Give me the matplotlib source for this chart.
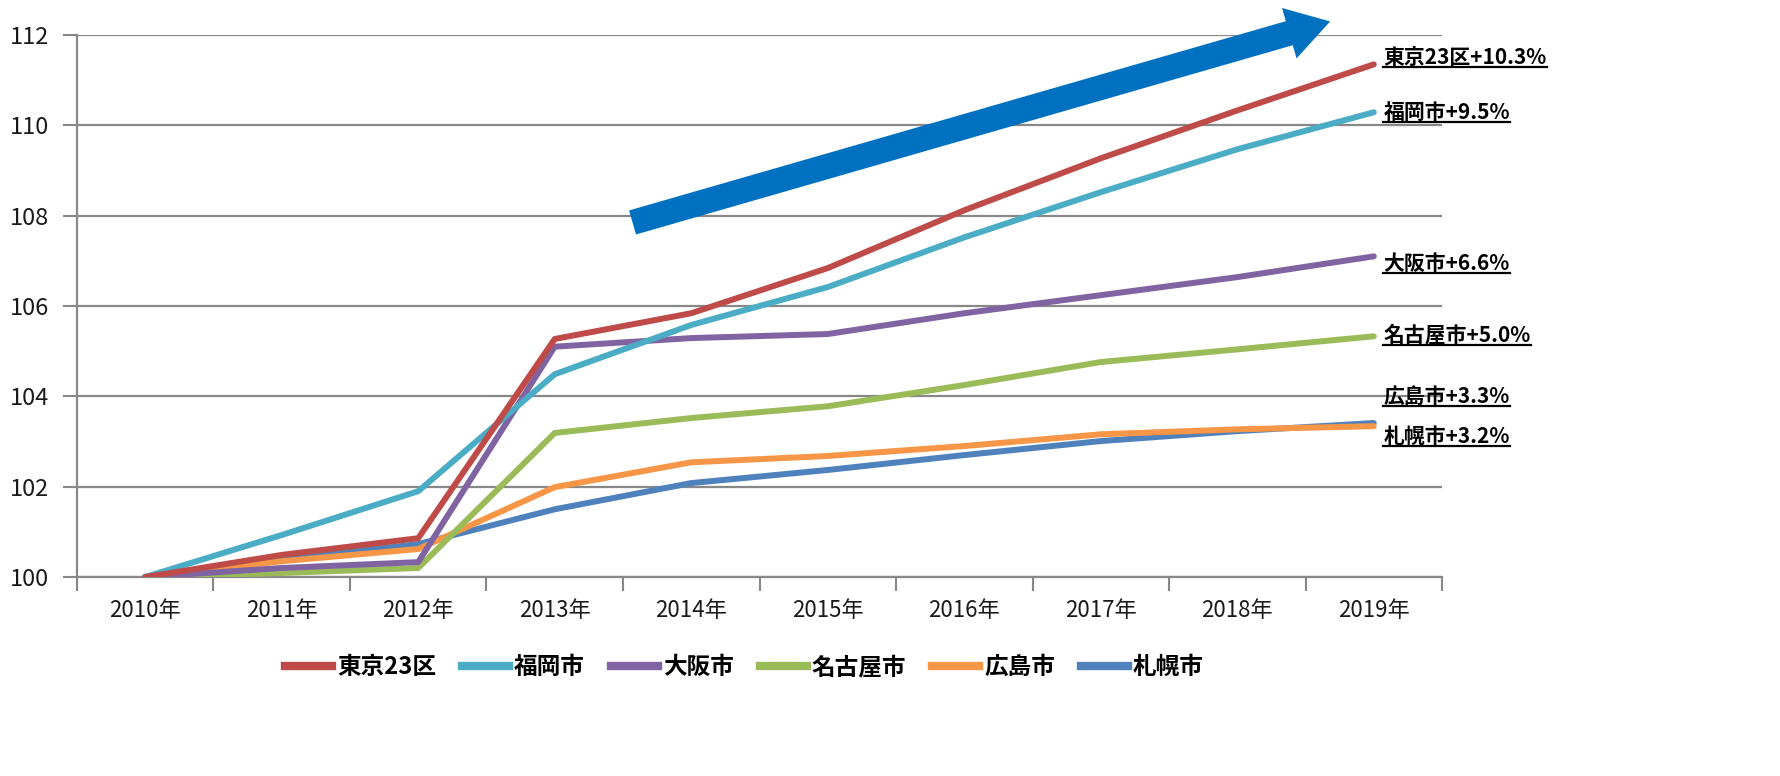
import matplotlib
matplotlib.use("Agg")
import matplotlib.pyplot as plt
from matplotlib.lines import Line2D

plt.rcParams['font.family'] = ['Noto Sans CJK JP', 'DejaVu Sans']

# data (2010 = 100)
years = ['2010年', '2011年', '2012年', '2013年', '2014年', '2015年', '2016年', '2017年', '2018年', '2019年']
tokyo = [100, 100.49, 100.86, 105.27, 105.84, 106.84, 108.12, 109.27, 110.33, 111.35]
fukuoka = [100, 100.93, 101.9, 104.49, 105.58, 106.42, 107.52, 108.52, 109.47, 110.29]
osaka = [100, 100.2, 100.33, 105.1, 105.29, 105.38, 105.84, 106.24, 106.64, 107.1]
nagoya = [100, 100.09, 100.2, 103.19, 103.52, 103.78, 104.25, 104.76, 105.04, 105.33]
hiroshima = [100, 100.35, 100.62, 101.99, 102.54, 102.68, 102.9, 103.16, 103.27, 103.34]
sapporo = [100, 100.38, 100.73, 101.5, 102.08, 102.37, 102.7, 103.01, 103.23, 103.41]

names = ['東京23区', '福岡市', '大阪市', '名古屋市', '広島市', '札幌市']
changes = ['+10.3%', '+9.5%', '+6.6%', '+5.0%', '+3.3%', '+3.2%']
colors = ['#BE4B48', '#4BACC6', '#8064A2', '#9BBB59', '#F79646', '#4F81BD']
series = [tokyo, fukuoka, osaka, nagoya, hiroshima, sapporo]
# vertical placement of end labels (data units)
label_y = [111.5, 110.29, 106.95, 105.35, 104.0, 103.12]

fig = plt.figure(figsize=(17.81, 7.76), dpi=100)
ax = fig.add_axes([0.0432, 0.2564, 0.7665, 0.6985])

x = list(range(len(years)))
# draw in reverse so Tokyo ends on top
for vals, name, c in reversed(list(zip(series, names, colors))):
    ax.plot(x, vals, color=c, lw=4.3, solid_capstyle='round', solid_joinstyle='round', label=name, zorder=3)

ax.set_xlim(-0.5, 9.5)
ax.set_ylim(100, 112)
ax.set_yticks([100, 102, 104, 106, 108, 110, 112])
ax.set_xticks([i - 0.5 for i in range(11)])
ax.set_xticklabels([])
ax.set_xticks(x, minor=True)
ax.set_xticklabels(years, minor=True)
ax.tick_params(axis='x', which='minor', length=0, pad=16, labelsize=16, labelcolor='#1a1a1a')
ax.tick_params(axis='x', which='major', length=10, width=1.5, color='#888888')
ax.tick_params(axis='y', length=10, width=1.5, color='#888888', labelsize=17, labelcolor='#1a1a1a', pad=10)
ax.grid(axis='y', color='#888888', lw=1.6, zorder=1)
for s in ['top', 'right']:
    ax.spines[s].set_visible(False)
for s in ['left', 'bottom']:
    ax.spines[s].set_color('#888888')
    ax.spines[s].set_linewidth(1.6)

# big blue trend arrow
ax.annotate('', xy=(8.68, 112.3), xytext=(3.57, 107.85), annotation_clip=False,
            arrowprops=dict(arrowstyle='simple,head_width=2.1,head_length=1.7,tail_width=1.0',
                            color='#0070C0', mutation_scale=18, lw=0, shrinkA=0, shrinkB=0))

# end labels, bold and underlined
texts = []
for name, ch, ly in zip(names, changes, label_y):
    t = ax.text(9.07, ly, name + ch, fontsize=15, fontweight='bold', color='black',
                va='center', ha='left', clip_on=False)
    texts.append(t)

leg = ax.legend(handles=[Line2D([], [], color=c, lw=6, label=n) for n, c in zip(names, colors)],
                loc='upper center', bbox_to_anchor=(0.489, -0.105), ncol=6, frameon=False,
                handlelength=2.0, handletextpad=0.2, columnspacing=1.1,
                prop={'size': 17, 'weight': 'bold'})

fig.canvas.draw()
r = fig.canvas.get_renderer()
for t in texts:
    bb = t.get_window_extent(r)
    fig.add_artist(Line2D([bb.x0, bb.x1], [bb.y0 + 1, bb.y0 + 1], color='black', lw=1.6,
                          transform=None))

fig.savefig('out.png', dpi=100)
